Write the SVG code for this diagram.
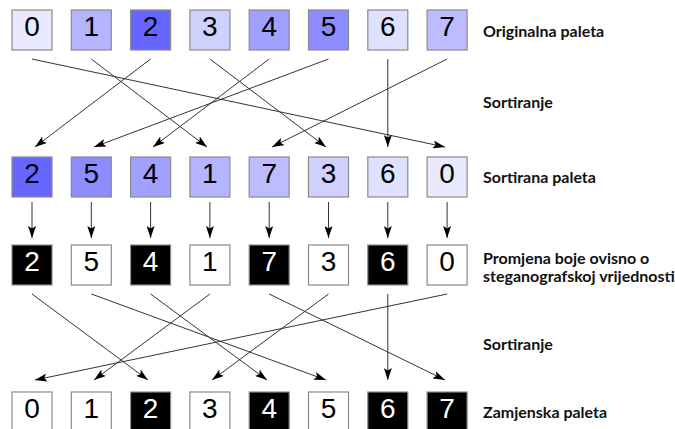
<svg xmlns="http://www.w3.org/2000/svg" width="675" height="429" viewBox="0 0 675 429">
<style>
.box{stroke:#8a8a8a;stroke-width:1.2}
.d{font-family:"Liberation Sans",Arial,sans-serif;font-size:28px;text-anchor:middle;fill:#000}
.w{fill:#fff}
.k{fill:#000}
.lbl{font-family:Lato,"Liberation Sans",sans-serif;font-weight:bold;font-size:16px;fill:#111}
.c line{stroke:#333;stroke-width:1;marker-end:url(#ah)}
</style>
<defs>
<marker id="ah" viewBox="0 0 12 8" refX="12" refY="4" markerWidth="12" markerHeight="8" markerUnits="userSpaceOnUse" orient="auto">
<path d="M0,0 L12,4 L0,8 L2.5,4 z" fill="#000"/>
</marker>
</defs>
<rect width="675" height="429" fill="#fff"/>

<g id="row1">
<g id="o0"><rect class="box" x="12" y="10" width="40" height="40" fill="#e8e8ff"/><text class="d" x="32" y="36">0</text></g>
<g id="o1"><rect class="box" x="71.3" y="10" width="40" height="40" fill="#b4b4ff"/><text class="d" x="91.3" y="36">1</text></g>
<g id="o2"><rect class="box" x="130.6" y="10" width="40" height="40" fill="#6666ff"/><text class="d" x="150.6" y="36">2</text></g>
<g id="o3"><rect class="box" x="189.9" y="10" width="40" height="40" fill="#d0d0ff"/><text class="d" x="209.9" y="36">3</text></g>
<g id="o4"><rect class="box" x="249.2" y="10" width="40" height="40" fill="#a0a0ff"/><text class="d" x="269.2" y="36">4</text></g>
<g id="o5"><rect class="box" x="308.5" y="10" width="40" height="40" fill="#8c8cff"/><text class="d" x="328.5" y="36">5</text></g>
<g id="o6"><rect class="box" x="367.8" y="10" width="40" height="40" fill="#e0e0ff"/><text class="d" x="387.8" y="36">6</text></g>
<g id="o7"><rect class="box" x="427.1" y="10" width="40" height="40" fill="#bcbcff"/><text class="d" x="447.1" y="36">7</text></g>
</g>

<g id="row2">
<g id="s2"><rect class="box" x="12" y="157" width="40" height="40" fill="#6666ff"/><text class="d" x="32" y="183">2</text></g>
<g id="s5"><rect class="box" x="71.3" y="157" width="40" height="40" fill="#8c8cff"/><text class="d" x="91.3" y="183">5</text></g>
<g id="s4"><rect class="box" x="130.6" y="157" width="40" height="40" fill="#a0a0ff"/><text class="d" x="150.6" y="183">4</text></g>
<g id="s1"><rect class="box" x="189.9" y="157" width="40" height="40" fill="#b4b4ff"/><text class="d" x="209.9" y="183">1</text></g>
<g id="s7"><rect class="box" x="249.2" y="157" width="40" height="40" fill="#bcbcff"/><text class="d" x="269.2" y="183">7</text></g>
<g id="s3"><rect class="box" x="308.5" y="157" width="40" height="40" fill="#d0d0ff"/><text class="d" x="328.5" y="183">3</text></g>
<g id="s6"><rect class="box" x="367.8" y="157" width="40" height="40" fill="#e0e0ff"/><text class="d" x="387.8" y="183">6</text></g>
<g id="s0"><rect class="box" x="427.1" y="157" width="40" height="40" fill="#e8e8ff"/><text class="d" x="447.1" y="183">0</text></g>
</g>

<g id="row3">
<g id="m2"><rect class="box k" x="12" y="245" width="40" height="40"/><text class="d w" x="32" y="271">2</text></g>
<g id="m5"><rect class="box w" x="71.3" y="245" width="40" height="40"/><text class="d" x="91.3" y="271">5</text></g>
<g id="m4"><rect class="box k" x="130.6" y="245" width="40" height="40"/><text class="d w" x="150.6" y="271">4</text></g>
<g id="m1"><rect class="box w" x="189.9" y="245" width="40" height="40"/><text class="d" x="209.9" y="271">1</text></g>
<g id="m7"><rect class="box k" x="249.2" y="245" width="40" height="40"/><text class="d w" x="269.2" y="271">7</text></g>
<g id="m3"><rect class="box w" x="308.5" y="245" width="40" height="40"/><text class="d" x="328.5" y="271">3</text></g>
<g id="m6"><rect class="box k" x="367.8" y="245" width="40" height="40"/><text class="d w" x="387.8" y="271">6</text></g>
<g id="m0"><rect class="box w" x="427.1" y="245" width="40" height="40"/><text class="d" x="447.1" y="271">0</text></g>
</g>

<g id="row4">
<g id="r0"><rect class="box w" x="12" y="392" width="40" height="40"/><text class="d" x="32" y="418">0</text></g>
<g id="r1"><rect class="box w" x="71.3" y="392" width="40" height="40"/><text class="d" x="91.3" y="418">1</text></g>
<g id="r2"><rect class="box k" x="130.6" y="392" width="40" height="40"/><text class="d w" x="150.6" y="418">2</text></g>
<g id="r3"><rect class="box w" x="189.9" y="392" width="40" height="40"/><text class="d" x="209.9" y="418">3</text></g>
<g id="r4"><rect class="box k" x="249.2" y="392" width="40" height="40"/><text class="d w" x="269.2" y="418">4</text></g>
<g id="r5"><rect class="box w" x="308.5" y="392" width="40" height="40"/><text class="d" x="328.5" y="418">5</text></g>
<g id="r6"><rect class="box k" x="367.8" y="392" width="40" height="40"/><text class="d w" x="387.8" y="418">6</text></g>
<g id="r7"><rect class="box k" x="427.1" y="392" width="40" height="40"/><text class="d w" x="447.1" y="418">7</text></g>
</g>

<g id="connectors" class="c">
<line x1="32" y1="59" x2="445" y2="147"/>
<line x1="91.3" y1="59" x2="207" y2="147"/>
<line x1="150.6" y1="59" x2="35" y2="147"/>
<line x1="209.9" y1="59" x2="326" y2="147"/>
<line x1="269.2" y1="59" x2="153" y2="147"/>
<line x1="328.5" y1="59" x2="94" y2="147"/>
<line x1="387.8" y1="59" x2="387.8" y2="147"/>
<line x1="447.1" y1="59" x2="272" y2="147"/>

<line x1="32" y1="202" x2="32" y2="238"/>
<line x1="91.3" y1="202" x2="91.3" y2="238"/>
<line x1="150.6" y1="202" x2="150.6" y2="238"/>
<line x1="209.9" y1="202" x2="209.9" y2="238"/>
<line x1="269.2" y1="202" x2="269.2" y2="238"/>
<line x1="328.5" y1="202" x2="328.5" y2="238"/>
<line x1="387.8" y1="202" x2="387.8" y2="238"/>
<line x1="447.1" y1="202" x2="447.1" y2="238"/>

<line x1="32" y1="294" x2="148" y2="380"/>
<line x1="91.3" y1="294" x2="326" y2="380"/>
<line x1="150.6" y1="294" x2="267" y2="380"/>
<line x1="209.9" y1="294" x2="94" y2="380"/>
<line x1="269.2" y1="294" x2="445" y2="380"/>
<line x1="328.5" y1="294" x2="212" y2="380"/>
<line x1="387.8" y1="294" x2="387.8" y2="380"/>
<line x1="447.1" y1="294" x2="35" y2="380"/>
</g>

<g id="labels">
<text class="lbl" x="483" y="37">Originalna paleta</text>
<text class="lbl" x="483" y="108">Sortiranje</text>
<text class="lbl" x="483" y="183">Sortirana paleta</text>
<text class="lbl" x="483" y="264">Promjena boje ovisno o</text>
<text class="lbl" x="483" y="282">steganografskoj vrijednosti</text>
<text class="lbl" x="483" y="350">Sortiranje</text>
<text class="lbl" x="483" y="418">Zamjenska paleta</text>
</g>
</svg>
